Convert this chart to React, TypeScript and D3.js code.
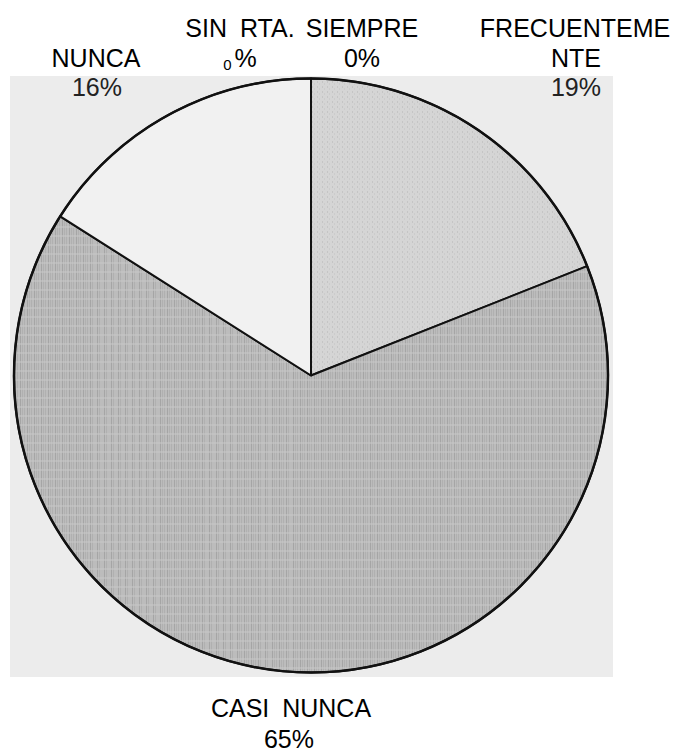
import React from "react";
import * as d3 from "d3";

const categories = ["SIEMPRE", "FRECUENTEMENTE", "CASI NUNCA", "NUNCA", "SIN RTA."];
const values = [0, 19, 65, 16, 0];
const percentLabels = ["0%", "19%", "65%", "16%", "0%"];

const W = 673;
const H = 754;
const cx = 311;
const cy = 375.5;
const R = 297;

const fills = ["#d4d4d4", "url(#stipple)", "url(#streaks)", "#f1f1f1", "#f1f1f1"];

export default function App() {
  const pie = d3.pie<number>().sort(null).value((d) => d)(values);
  const arc = d3.arc<d3.PieArcDatum<number>>().innerRadius(0).outerRadius(R);
  const font = "'Liberation Sans', Arial, sans-serif";
  const streakXs = [0, 3, 5];
  return (
    <svg
      width={W}
      height={H}
      style={{ position: "absolute", left: 0, top: 0, background: "#fff" }}
    >
      <defs>
        <pattern id="stipple" width="5" height="5" patternUnits="userSpaceOnUse">
          <rect width="5" height="5" fill="#d5d5d5" />
          <rect x="1" y="1" width="1" height="1" fill="#b5b5b5" />
          <rect x="3" y="3" width="1" height="1" fill="#c2c2c2" />
        </pattern>
        <pattern id="streaks" width="7" height="9" patternUnits="userSpaceOnUse">
          <rect width="7" height="9" fill="#bcbcbc" />
          {streakXs.map((x, i) => (
            <rect key={i} x={x} y={0} width="1" height="9" fill={i === 1 ? "#a5a5a5" : "#b0b0b0"} />
          ))}
          <rect x="0" y="4" width="7" height="1" fill="#c8c8c8" />
        </pattern>
      </defs>
      <rect x={10} y={76} width={603} height={601} fill="#ececec" />
      <g transform={`translate(${cx},${cy})`}>
        {pie.map((p, i) =>
          p.value > 0 ? (
            <path key={categories[i]} d={arc(p) || ""} fill={fills[i]} stroke="#111" strokeWidth={2} strokeLinejoin="round" />
          ) : null
        )}
        <circle r={R} fill="none" stroke="#111" strokeWidth={2.5} />
      </g>
      <g fontFamily={font} fontSize={25} fill="#000" textAnchor="middle" wordSpacing={6}>
        <text x={240} y={37}>{categories[4]}</text>
        <text x={240} y={67}>
          <tspan fontSize={15} dy={3}>{percentLabels[4].slice(0, 1)}</tspan>
          <tspan dy={-3} dx={3}>{percentLabels[4].slice(1)}</tspan>
        </text>
        <text x={362} y={37}>{categories[0]}</text>
        <text x={362} y={67}>{percentLabels[0]}</text>
        <text x={575} y={37}>{categories[1].slice(0, 11)}</text>
        <text x={576} y={67}>{categories[1].slice(11)}</text>
        <text x={576} y={96} fill="#222">{percentLabels[1]}</text>
        <text x={96} y={67}>{categories[3]}</text>
        <text x={97} y={96} fill="#222">{percentLabels[3]}</text>
        <text x={291} y={717}>{categories[2]}</text>
        <text x={289} y={748}>{percentLabels[2]}</text>
      </g>
    </svg>
  );
}
